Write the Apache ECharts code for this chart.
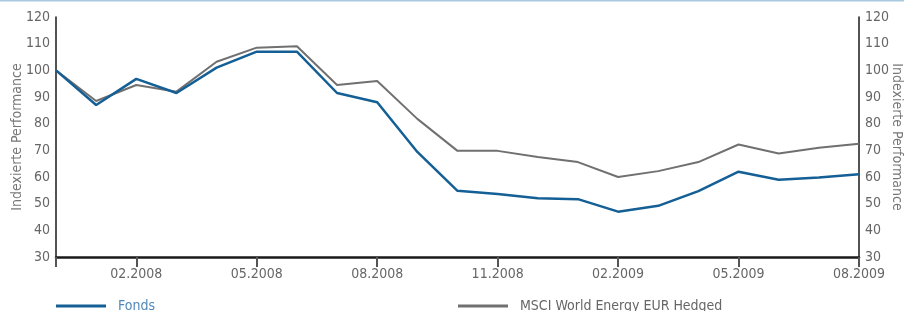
<!DOCTYPE html>
<html><head><meta charset="utf-8">
<script src="https://cdn.jsdelivr.net/npm/echarts@6/dist/echarts.min.js"></script>
<style>html,body{margin:0;padding:0;background:#fff}#c{width:904px;height:311px}</style>
</head><body><div id="c"></div>
<script>
var categories = ['12.2007','01.2008','02.2008','03.2008','04.2008','05.2008','06.2008','07.2008','08.2008','09.2008','10.2008','11.2008','12.2008','01.2009','02.2009','03.2009','04.2009','05.2009','06.2009','07.2009','08.2009'];
var fonds = [100, 87, 96.8, 91.5, 101, 107, 107, 91.5, 88, 69.4, 54.8, 53.6, 52, 51.7, 47, 49.2, 54.7, 62, 59, 59.8, 61];
var msci = [100, 88.5, 94.5, 92, 103.2, 108.5, 109, 94.5, 96, 81.8, 69.8, 69.8, 67.5, 65.6, 60, 62.2, 65.6, 72.2, 68.8, 71, 72.5];
var seriesNames = ['Fonds', 'MSCI World Energy EUR Hedged'];
var axisTitle = 'Indexierte Performance';

var FONT = '"Liberation Sans Narrow", "DejaVu Sans Condensed", "Roboto", sans-serif';
var chart = echarts.init(document.getElementById('c'), null, {renderer:'canvas'});
var yAxisBase = {
  type:'value', min:30, max:120, interval:10,
  name: axisTitle, nameLocation:'middle', nameMoveOverlap:false,
  nameTextStyle:{color:'#777', fontSize:14, fontFamily:FONT},
  splitLine:{show:false},
  axisLine:{show:true, lineStyle:{color:'#1a1a1a', width:1.5}},
  axisTick:{show:false},
  axisLabel:{color:'#666', fontSize:14, fontFamily:FONT, margin:6}
};
chart.setOption({
  animation:false,
  grid:{left:56, right:45, top:17, bottom:54, containLabel:false, outerBoundsMode:'none'},
  graphic:[{type:'rect', shape:{x:0,y:0,width:904,height:1.5}, style:{fill:'#a9c9e0'}}],
  legend:[
    {data:[seriesNames[0]], left:56, top:299, itemWidth:50, itemHeight:3, icon:'rect', itemGap:0, padding:0,
     textStyle:{color:'#4f88ba', fontSize:14, fontFamily:FONT, padding:[0,0,0,7]}},
    {data:[seriesNames[1]], left:458, top:299, itemWidth:50, itemHeight:3, icon:'rect', padding:0,
     textStyle:{color:'#666', fontSize:14, fontFamily:FONT, padding:[0,0,0,7]}}
  ],
  xAxis:{type:'category', data:categories, boundaryGap:false,
    axisLine:{lineStyle:{color:'#1a1a1a', width:2.5}},
    axisTick:{show:true, length:10, lineStyle:{color:'#555', width:2},
      interval:function(i){return i%3===2 || i===0;}},
    axisLabel:{color:'#666', fontSize:14, fontFamily:FONT, margin:10,
      interval:function(i){return i%3===2;},
      formatter:function(v){return v;}}
  },
  yAxis:[
    Object.assign({}, yAxisBase, {position:'left', nameGap:32, nameRotate:90}),
    Object.assign({}, yAxisBase, {position:'right', nameGap:31, nameRotate:-90})
  ],
  series:[
    {name:seriesNames[1], type:'line', data:msci, symbol:'none', z:2,
     lineStyle:{color:'#707070', width:2}, itemStyle:{color:'#707070'}},
    {name:seriesNames[0], type:'line', data:fonds, symbol:'none', z:3,
     lineStyle:{color:'#145f95', width:2.5}, itemStyle:{color:'#145f95'}}
  ]
});
</script></body></html>
